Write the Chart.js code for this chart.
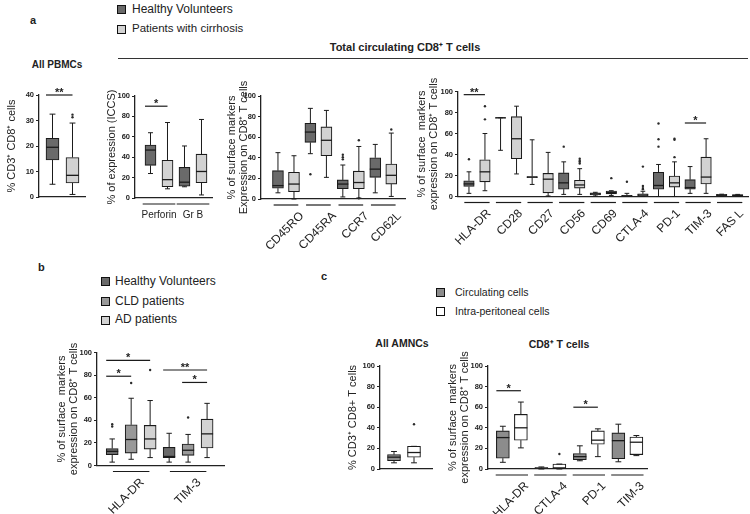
<!DOCTYPE html>
<html>
<head>
<meta charset="utf-8">
<script src="https://cdn.jsdelivr.net/npm/chart.js@4.4.1/dist/chart.umd.min.js"></script>
<style>
body{margin:0;background:#fff;width:750px;height:514px;position:relative;overflow:hidden;font-family:"Liberation Sans",Arial,sans-serif;color:#222}
canvas{position:absolute}
.t{position:absolute;white-space:nowrap}
.b{font-weight:bold}
.c{transform:translateX(-50%)}
.sq{position:absolute;width:7px;height:7px;border:1.6px solid #111}
</style>
</head>
<body>
<!-- panel a header -->
<div class="t b" style="left:30px;top:14px;font-size:11px">a</div>
<div class="sq" style="left:117px;top:5px;background:#6a6a6a"></div>
<div class="t" style="left:132px;top:2px;font-size:12px">Healthy Volunteers</div>
<div class="sq" style="left:117px;top:25px;background:#d2d2d2"></div>
<div class="t" style="left:132px;top:22px;font-size:11.5px">Patients with cirrhosis</div>
<div class="t b c" style="left:57px;top:59px;font-size:10px">All PBMCs</div>
<div class="t b c" style="left:405px;top:39px;font-size:11px">Total circulating CD8⁺ T cells</div>
<div style="position:absolute;left:118px;top:58px;width:630px;height:1px;background:#333"></div>
<!-- panel b header -->
<div class="t b" style="left:38px;top:261px;font-size:11px">b</div>
<div class="sq" style="left:101px;top:277px;background:#6a6a6a"></div>
<div class="t" style="left:115px;top:274px;font-size:12px">Healthy Volunteers</div>
<div class="sq" style="left:101px;top:297px;background:#999"></div>
<div class="t" style="left:115px;top:294px;font-size:12px">CLD patients</div>
<div class="sq" style="left:101px;top:316px;background:#d2d2d2"></div>
<div class="t" style="left:115px;top:312px;font-size:12px">AD patients</div>
<!-- panel c header -->
<div class="t b" style="left:321px;top:270px;font-size:11px">c</div>
<div class="sq" style="left:436px;top:288px;background:#8c8c8c"></div>
<div class="t" style="left:455px;top:286px;font-size:10.5px">Circulating cells</div>
<div class="sq" style="left:436px;top:307px;background:#fff"></div>
<div class="t" style="left:455px;top:305px;font-size:10.5px">Intra-peritoneal cells</div>
<div class="t b c" style="left:402px;top:337px;font-size:10.5px">All AMNCs</div>
<div class="t b c" style="left:559px;top:337px;font-size:10.5px">CD8⁺ T cells</div>

<script>
// box stats are [whisker min, Q1, median, Q3, whisker max]

// a - all PBMCs
const pbmcLabels = [''];
const pbmcHealthy = [[5, 14.5, 19.5, 23, 32.5]];
const pbmcCirrhosis = [[1, 5.5, 8.5, 15.5, 29]];
const pbmcCirrhosisOut = [[31.3, 32.3]];
const pbmcSig = [{cat: 0, from: 0, to: 1, y: 40, text: '**'}];

// a - intracellular staining
const iccsLabels = ['Perforin', 'Gr B'];
const iccsHealthy = [[24, 32, 47, 52, 64], [11, 11.5, 15.5, 30, 51]];
const iccsCirrhosis = [[9, 11, 18, 37, 74], [3, 15, 26, 43, 77]];
const iccsSig = [{cat: 0, from: 0, to: 1, y: 90, text: '*'}];

// a - differentiation markers
const diffLabels = ['CD45RO', 'CD45RA', 'CCR7', 'CD62L'];
const diffHealthy = [[6, 10.5, 13, 27.5, 45], [44, 55, 65, 73.5, 88], [2, 10, 14.5, 18.5, 33], [6, 21, 29, 40, 53]];
const diffHealthyOut = [[], [24], [38.5, 40.5, 43], []];
const diffCirrhosis = [[0, 7, 14.5, 26, 42], [21, 42, 57, 70, 86], [1, 10, 16, 27, 51], [2.5, 14.5, 23, 34, 64]];
const diffCirrhosisOut = [[], [], [57, 0.8], [67.5]];

// a - activation / exhaustion markers
const actLabels = ['HLA-DR', 'CD28', 'CD27', 'CD56', 'CD69', 'CTLA-4', 'PD-1', 'TIM-3', 'FAS L'];
const actHealthy = [[3, 9.5, 12, 15, 23.5], [44, 74.5, 75, 75, 75], [11.5, 18, 18.5, 19, 54], [2, 7, 13, 22.5, 33], [0.5, 1.5, 2.5, 3.5, 4], [0, 0.3, 0.6, 1.2, 3], [0, 7, 10.5, 23, 30.5], [3, 7, 8.5, 16, 28.5], [0, 0.5, 1.2, 2, 2.2]];
const actHealthyOut = [[35.5], [], [], [47.5], [], [14], [47.5, 54.5, 69.5], [], []];
const actCirrhosis = [[5.5, 14, 23.5, 35, 60], [21.5, 36, 55, 76, 86], [0.5, 3.5, 16.5, 22, 42], [2, 8, 11, 15.5, 26.5], [1, 2.5, 3.8, 5.2, 5.5], [0, 0.6, 1.5, 2.5, 5], [0, 9, 13, 19.5, 33], [3, 12, 18.5, 37.5, 55], [0, 0.5, 1, 1.8, 2]];
const actCirrhosisOut = [[73.5, 86], [], [], [31.5, 33, 34, 36], [17.5], [7, 8, 10, 28.5], [37.5, 54, 55], [], []];
const actSig = [{cat: 0, from: 0, to: 1, y: 97, text: '**'}, {cat: 7, from: 0, to: 1, y: 70, text: '*'}];

// b - disease stage
const stageLabels = ['HLA-DR', 'TIM-3'];
const stageHealthy = [[3, 9.5, 12.5, 15, 23.5], [3, 7, 8, 16, 28.5]];
const stageHealthyOut = [[34.5, 36.5], []];
const stageCld = [[5.5, 11, 23, 36, 59.5], [3, 9, 13.5, 19, 27.5]];
const stageCldOut = [[73], [42.5]];
const stageAd = [[7, 14.5, 23.5, 35.5, 57.5], [7, 15.5, 28, 41, 55]];
const stageAdOut = [[84.5], []];
const stageSig = [{cat: 0, from: 0, to: 2, y: 93, text: '*'}, {cat: 0, from: 0, to: 1, y: 79, text: '*'},
                  {cat: 1, from: 0, to: 2, y: 84.5, text: '**'}, {cat: 1, from: 1, to: 2, y: 73.5, text: '*'}];

// c - ascites
const amncLabels = [''];
const amncCirculating = [[6, 8, 11.5, 14, 17]];
const amncPeritoneal = [[6, 11.5, 16, 22, 22]];
const amncPeritonealOut = [[43.5]];

const ascLabels = ['HLA-DR', 'CTLA-4', 'PD-1', 'TIM-3'];
const ascCirculating = [[6.5, 10.5, 30.5, 37, 41.5], [0, 0.3, 0.8, 1.5, 2], [8, 9, 12, 15, 22.5], [7, 10, 27.5, 35, 43.5]];
const ascPeritoneal = [[20.5, 28, 40, 53, 65], [0, 0.5, 1, 4.8, 4.8], [12, 24, 28, 37, 39], [13, 14, 26, 31, 32.5]];
const ascPeritonealOut = [[], [14.5], [], []];
const ascSig = [{cat: 0, from: 0, to: 1, y: 76, text: '*'}, {cat: 2, from: 0, to: 1, y: 60, text: '*'}];

const HV = '#6a6a6a', LIGHT = '#d2d2d2', MID = '#999999', CIRC = '#8c8c8c', WHITE = '#ffffff';
const surfTitle = ['% of surface  markers', 'expression on CD8⁺ T cells'];

Chart.defaults.font.family = '"Liberation Sans", Arial, sans-serif';
Chart.defaults.color = '#222';

// draws whiskers, medians, outliers, group underlines and significance bars
const boxPlugin = {
  id: 'boxes',
  afterDatasetsDraw(chart, args, opts) {
    const {ctx, chartArea, scales: {x, y}} = chart;
    const py = v => y.getPixelForValue(v);
    const seg = (x1, y1, x2, y2, w) => {
      ctx.lineWidth = w; ctx.beginPath(); ctx.moveTo(x1, y1); ctx.lineTo(x2, y2); ctx.stroke();
    };
    ctx.save();
    ctx.strokeStyle = '#1b1b1b';
    chart.data.datasets.forEach((ds, di) => {
      chart.getDatasetMeta(di).data.forEach((bar, i) => {
        const [lo, q1, md, q3, hi] = ds.stats[i];
        const cx = bar.x, w = bar.width, cap = w * 0.45;
        seg(cx, py(q3), cx, py(hi), 1);
        seg(cx, py(q1), cx, py(lo), 1);
        seg(cx - cap / 2, py(hi), cx + cap / 2, py(hi), 1);
        seg(cx - cap / 2, py(lo), cx + cap / 2, py(lo), 1);
        seg(cx - w / 2, py(md), cx + w / 2, py(md), q1 === q3 ? 2.6 : 1.3);
        ctx.fillStyle = '#2a2a2a';
        (ds.outliers[i] || []).forEach(v => {
          ctx.beginPath(); ctx.arc(cx, py(v), 1.2, 0, Math.PI * 2); ctx.fill();
        });
      });
    });
    if (opts.under) {
      const yy = chartArea.bottom + 6;
      opts.labels.forEach((l, i) => seg(x.getPixelForValue(i - opts.under), yy, x.getPixelForValue(i + opts.under), yy, 1.2));
    }
    ctx.fillStyle = '#222';
    ctx.font = 'bold 11px "Liberation Sans", Arial, sans-serif';
    ctx.textAlign = 'center';
    ctx.textBaseline = 'alphabetic';
    (opts.sig || []).forEach(s => {
      const a = chart.getDatasetMeta(s.from).data[s.cat];
      const b = chart.getDatasetMeta(s.to).data[s.cat];
      const x1 = a.x - a.width / 2, x2 = b.x, yy = py(s.y);
      seg(x1, yy, x2, yy, 1.2);
      ctx.fillText(s.text, (x1 + x2) / 2, yy + 1);
    });
    ctx.restore();
  }
};

function series(stats, outliers, color, off, thick) {
  return {
    data: stats.map((s, i) => ({x: i + off, y: [s[1], s[3]]})),
    stats: stats,
    outliers: outliers || [],
    backgroundColor: color,
    borderColor: '#1b1b1b',
    borderWidth: 1.1,
    borderSkipped: false,
    grouped: false,
    barThickness: thick
  };
}

// cv = canvas box [x0, y0, x1, y1], area = plot area [l, t, r, b] in page pixels
function panel(cv, area, o) {
  const el = document.createElement('canvas');
  el.width = cv[2] - cv[0];
  el.height = cv[3] - cv[1];
  el.style.left = cv[0] + 'px';
  el.style.top = cv[1] + 'px';
  document.body.appendChild(el);
  new Chart(el, {
    type: 'bar',
    data: {datasets: o.series},
    options: {
      responsive: false,
      animation: false,
      devicePixelRatio: 1,
      layout: {padding: {left: 0, top: area[1] - cv[1], right: cv[2] - area[2], bottom: 0}},
      plugins: {
        legend: {display: false},
        tooltip: {enabled: false},
        boxes: {labels: o.labels, under: o.under, sig: o.sig}
      },
      scales: {
        x: {
          type: 'linear', min: o.xMin, max: o.xMax, offset: false,
          afterBuildTicks: s => { s.ticks = o.labels.map((l, i) => ({value: i})); },
          afterFit: s => { s.height = cv[3] - area[3]; s.paddingLeft = 0; s.paddingRight = 0; },
          grid: {display: false, drawTicks: false},
          border: {display: true, color: '#222', width: 1.3},
          ticks: {
            autoSkip: false, minRotation: o.rot, maxRotation: o.rot,
            padding: o.pad, labelOffset: o.lo, color: '#222',
            font: {size: o.rot ? 12 : 10},
            callback: (v, i) => o.labels[i]
          }
        },
        y: {
          min: 0, max: o.yMax,
          afterFit: s => { s.width = area[0] - cv[0]; },
          ticks: {stepSize: o.step, padding: 2, color: '#222', font: {size: 7.5, weight: 'bold'}},
          grid: {drawOnChartArea: false, drawTicks: true, tickLength: 3, color: '#222', lineWidth: 1},
          border: {color: '#222', width: 1.3},
          title: {display: true, text: o.title, color: '#222', padding: {top: 0, bottom: 0}, font: {size: 11, lineHeight: 1.1}}
        }
      }
    },
    plugins: [boxPlugin]
  });
}

panel([6, 78, 92, 208], [39, 95, 85, 197], {
  labels: pbmcLabels, xMin: -0.5875, xMax: 0.5625, yMax: 40, step: 10, rot: 0, pad: 4, lo: 0, under: 0,
  title: '% CD3⁺ CD8⁺ cells', sig: pbmcSig,
  series: [series(pbmcHealthy, [], HV, -0.25, 13), series(pbmcCirrhosis, pbmcCirrhosisOut, LIGHT, 0.25, 13)]
});

panel([106, 78, 215, 230], [135, 96, 212, 198], {
  labels: iccsLabels, xMin: -0.706, xMax: 1.559, yMax: 100, step: 20, rot: 0, pad: 11, lo: 0, under: 0.48,
  title: '% of expression (ICCS)', sig: iccsSig,
  series: [series(iccsHealthy, [], HV, -0.25, 11), series(iccsCirrhosis, [], LIGHT, 0.25, 11)]
});

panel([226, 78, 410, 265], [261, 96, 405, 199], {
  labels: diffLabels, xMin: -0.77, xMax: 3.67, yMax: 100, step: 20, rot: 45, pad: 10, lo: 16, under: 0.38,
  title: ['% of surface markers', 'Expression on CD8⁺ T cells'], sig: [],
  series: [series(diffHealthy, diffHealthyOut, HV, -0.247, 11), series(diffCirrhosis, diffCirrhosisOut, LIGHT, 0.247, 11)]
});

panel([416, 78, 750, 265], [458, 91.5, 748, 196.5], {
  labels: actLabels, xMin: -0.6, xMax: 8.58, yMax: 100, step: 20, rot: 45, pad: 10, lo: 12, under: 0.4,
  title: surfTitle, sig: actSig,
  series: [series(actHealthy, actHealthyOut, HV, -0.253, 10.5), series(actCirrhosis, actCirrhosisOut, LIGHT, 0.253, 10.5)]
});

panel([56, 335, 230, 514], [97, 352.5, 224, 465.5], {
  labels: stageLabels, xMin: -0.6, xMax: 1.63, yMax: 100, step: 20, rot: 45, pad: 10, lo: 11, under: 0.32,
  title: surfTitle, sig: stageSig,
  series: [series(stageHealthy, stageHealthyOut, HV, -0.333, 12), series(stageCld, stageCldOut, MID, 0, 12),
           series(stageAd, stageAdOut, LIGHT, 0.333, 12)]
});

panel([347, 350, 435, 490], [380, 366, 432, 469], {
  labels: amncLabels, xMin: -0.6, xMax: 0.7, yMax: 100, step: 20, rot: 0, pad: 4, lo: 0, under: 0,
  title: '% CD3⁺ CD8+ T cells', sig: [],
  series: [series(amncCirculating, [], CIRC, -0.25, 13), series(amncPeritoneal, amncPeritonealOut, WHITE, 0.25, 13)]
});

panel([447, 350, 650, 514], [488, 366, 647, 469], {
  labels: ascLabels, xMin: -0.62, xMax: 3.51, yMax: 100, step: 20, rot: 45, pad: 10, lo: 15, under: 0.42,
  title: surfTitle, sig: ascSig,
  series: [series(ascCirculating, [], CIRC, -0.234, 13), series(ascPeritoneal, ascPeritonealOut, WHITE, 0.234, 13)]
});
</script>
</body>
</html>
